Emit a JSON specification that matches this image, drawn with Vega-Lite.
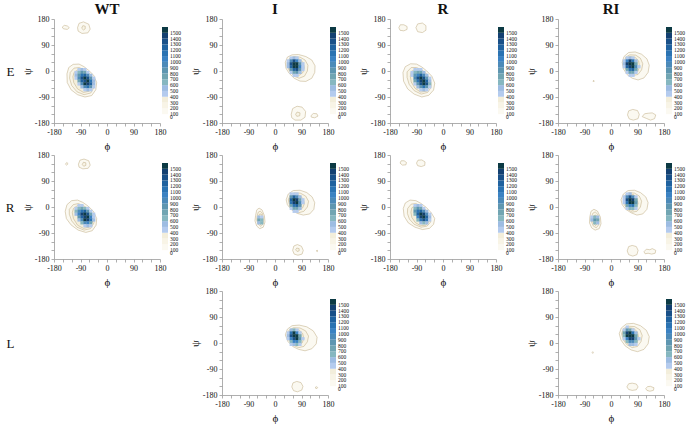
{
"$schema":"https://vega.github.io/schema/vega-lite/v6.json",
"background":"white",
"padding":{"left":5,"top":2,"right":5,"bottom":5},
"config":{
 "font":"Liberation Serif",
 "view":{"stroke":null},
 "axis":{"domainColor":"#9a9a9a","tickColor":"#9a9a9a","domainWidth":0.8,"tickWidth":0.8,"tickSize":3,"labelFont":"Liberation Serif","labelFontSize":8,"labelColor":"#111","labelPadding":2,"labelFlush":false,"labelOverlap":false,"titleFont":"Liberation Serif","titleFontSize":11,"titleFontWeight":"normal","titleColor":"#111","titlePadding":4,"grid":false},
 "axisY":{"titlePadding":2},
 "legend":{"labelFont":"Liberation Serif","labelFontSize":5.5,"labelOffset":2,"labelOverlap":false,"gradientStrokeWidth":0,"direction":"vertical","labelColor":"#111"},
 "title":{"font":"Liberation Serif","fontSize":15,"fontWeight":"bold","offset":-2,"anchor":"middle","color":"#111"}
},
"datasets":{
"lines":[
{"p":"EWT","k":"1a","i":0,"phi":-136,"psi":-10,"n":100},{"p":"EWT","k":"1a","i":1,"phi":-130,"psi":12,"n":100},{"p":"EWT","k":"1a","i":2,"phi":-115,"psi":23,"n":100},{"p":"EWT","k":"1a","i":3,"phi":-95,"psi":24,"n":100},{"p":"EWT","k":"1a","i":4,"phi":-78,"psi":15,"n":100},{"p":"EWT","k":"1a","i":5,"phi":-62,"psi":2,"n":100},{"p":"EWT","k":"1a","i":6,"phi":-45,"psi":-15,"n":100},{"p":"EWT","k":"1a","i":7,"phi":-35,"psi":-40,"n":100},{"p":"EWT","k":"1a","i":8,"phi":-38,"psi":-65,"n":100},{"p":"EWT","k":"1a","i":9,"phi":-52,"psi":-85,"n":100},{"p":"EWT","k":"1a","i":10,"phi":-75,"psi":-90,"n":100},{"p":"EWT","k":"1a","i":11,"phi":-100,"psi":-82,"n":100},{"p":"EWT","k":"1a","i":12,"phi":-122,"psi":-65,"n":100},{"p":"EWT","k":"1a","i":13,"phi":-135,"psi":-40,"n":100},{"p":"EWT","k":"1a","i":14,"phi":-136,"psi":-10,"n":100},
{"p":"EWT","k":"2a","i":0,"phi":-125,"psi":-5,"n":200},{"p":"EWT","k":"2a","i":1,"phi":-112,"psi":10,"n":200},{"p":"EWT","k":"2a","i":2,"phi":-95,"psi":12,"n":200},{"p":"EWT","k":"2a","i":3,"phi":-78,"psi":5,"n":200},{"p":"EWT","k":"2a","i":4,"phi":-60,"psi":-8,"n":200},{"p":"EWT","k":"2a","i":5,"phi":-46,"psi":-30,"n":200},{"p":"EWT","k":"2a","i":6,"phi":-43,"psi":-55,"n":200},{"p":"EWT","k":"2a","i":7,"phi":-55,"psi":-76,"n":200},{"p":"EWT","k":"2a","i":8,"phi":-78,"psi":-82,"n":200},{"p":"EWT","k":"2a","i":9,"phi":-102,"psi":-72,"n":200},{"p":"EWT","k":"2a","i":10,"phi":-120,"psi":-50,"n":200},{"p":"EWT","k":"2a","i":11,"phi":-127,"psi":-25,"n":200},{"p":"EWT","k":"2a","i":12,"phi":-125,"psi":-5,"n":200},
{"p":"EWT","k":"3a","i":0,"phi":-112,"psi":-5,"n":300},{"p":"EWT","k":"3a","i":1,"phi":-98,"psi":5,"n":300},{"p":"EWT","k":"3a","i":2,"phi":-80,"psi":0,"n":300},{"p":"EWT","k":"3a","i":3,"phi":-62,"psi":-10,"n":300},{"p":"EWT","k":"3a","i":4,"phi":-50,"psi":-30,"n":300},{"p":"EWT","k":"3a","i":5,"phi":-48,"psi":-52,"n":300},{"p":"EWT","k":"3a","i":6,"phi":-60,"psi":-70,"n":300},{"p":"EWT","k":"3a","i":7,"phi":-80,"psi":-74,"n":300},{"p":"EWT","k":"3a","i":8,"phi":-100,"psi":-62,"n":300},{"p":"EWT","k":"3a","i":9,"phi":-113,"psi":-40,"n":300},{"p":"EWT","k":"3a","i":10,"phi":-116,"psi":-20,"n":300},{"p":"EWT","k":"3a","i":11,"phi":-112,"psi":-5,"n":300},
{"p":"EWT","k":"1b","i":0,"phi":-100,"psi":150,"n":100},{"p":"EWT","k":"1b","i":1,"phi":-95,"psi":165,"n":100},{"p":"EWT","k":"1b","i":2,"phi":-80,"psi":170,"n":100},{"p":"EWT","k":"1b","i":3,"phi":-62,"psi":162,"n":100},{"p":"EWT","k":"1b","i":4,"phi":-57,"psi":145,"n":100},{"p":"EWT","k":"1b","i":5,"phi":-65,"psi":132,"n":100},{"p":"EWT","k":"1b","i":6,"phi":-85,"psi":130,"n":100},{"p":"EWT","k":"1b","i":7,"phi":-98,"psi":138,"n":100},{"p":"EWT","k":"1b","i":8,"phi":-100,"psi":150,"n":100},
{"p":"EWT","k":"2b","i":0,"phi":-86,"psi":148,"n":200},{"p":"EWT","k":"2b","i":1,"phi":-82,"psi":157,"n":200},{"p":"EWT","k":"2b","i":2,"phi":-74,"psi":155,"n":200},{"p":"EWT","k":"2b","i":3,"phi":-74,"psi":146,"n":200},{"p":"EWT","k":"2b","i":4,"phi":-80,"psi":142,"n":200},{"p":"EWT","k":"2b","i":5,"phi":-86,"psi":148,"n":200},
{"p":"EWT","k":"1c","i":0,"phi":-152,"psi":152,"n":100},{"p":"EWT","k":"1c","i":1,"phi":-145,"psi":158,"n":100},{"p":"EWT","k":"1c","i":2,"phi":-135,"psi":156,"n":100},{"p":"EWT","k":"1c","i":3,"phi":-128,"psi":150,"n":100},{"p":"EWT","k":"1c","i":4,"phi":-135,"psi":144,"n":100},{"p":"EWT","k":"1c","i":5,"phi":-148,"psi":146,"n":100},{"p":"EWT","k":"1c","i":6,"phi":-152,"psi":152,"n":100},

{"p":"RWT","k":"1a","i":0,"phi":-142,"psi":-15,"n":100},{"p":"RWT","k":"1a","i":1,"phi":-136,"psi":8,"n":100},{"p":"RWT","k":"1a","i":2,"phi":-120,"psi":22,"n":100},{"p":"RWT","k":"1a","i":3,"phi":-100,"psi":24,"n":100},{"p":"RWT","k":"1a","i":4,"phi":-82,"psi":16,"n":100},{"p":"RWT","k":"1a","i":5,"phi":-64,"psi":3,"n":100},{"p":"RWT","k":"1a","i":6,"phi":-46,"psi":-15,"n":100},{"p":"RWT","k":"1a","i":7,"phi":-35,"psi":-40,"n":100},{"p":"RWT","k":"1a","i":8,"phi":-37,"psi":-63,"n":100},{"p":"RWT","k":"1a","i":9,"phi":-50,"psi":-82,"n":100},{"p":"RWT","k":"1a","i":10,"phi":-72,"psi":-88,"n":100},{"p":"RWT","k":"1a","i":11,"phi":-98,"psi":-80,"n":100},{"p":"RWT","k":"1a","i":12,"phi":-122,"psi":-62,"n":100},{"p":"RWT","k":"1a","i":13,"phi":-138,"psi":-40,"n":100},{"p":"RWT","k":"1a","i":14,"phi":-142,"psi":-15,"n":100},
{"p":"RWT","k":"2a","i":0,"phi":-128,"psi":-8,"n":200},{"p":"RWT","k":"2a","i":1,"phi":-115,"psi":8,"n":200},{"p":"RWT","k":"2a","i":2,"phi":-98,"psi":12,"n":200},{"p":"RWT","k":"2a","i":3,"phi":-80,"psi":5,"n":200},{"p":"RWT","k":"2a","i":4,"phi":-62,"psi":-8,"n":200},{"p":"RWT","k":"2a","i":5,"phi":-47,"psi":-30,"n":200},{"p":"RWT","k":"2a","i":6,"phi":-44,"psi":-55,"n":200},{"p":"RWT","k":"2a","i":7,"phi":-56,"psi":-75,"n":200},{"p":"RWT","k":"2a","i":8,"phi":-78,"psi":-80,"n":200},{"p":"RWT","k":"2a","i":9,"phi":-102,"psi":-70,"n":200},{"p":"RWT","k":"2a","i":10,"phi":-120,"psi":-48,"n":200},{"p":"RWT","k":"2a","i":11,"phi":-128,"psi":-25,"n":200},{"p":"RWT","k":"2a","i":12,"phi":-128,"psi":-8,"n":200},
{"p":"RWT","k":"3a","i":0,"phi":-114,"psi":-5,"n":300},{"p":"RWT","k":"3a","i":1,"phi":-100,"psi":5,"n":300},{"p":"RWT","k":"3a","i":2,"phi":-82,"psi":0,"n":300},{"p":"RWT","k":"3a","i":3,"phi":-64,"psi":-10,"n":300},{"p":"RWT","k":"3a","i":4,"phi":-51,"psi":-30,"n":300},{"p":"RWT","k":"3a","i":5,"phi":-49,"psi":-52,"n":300},{"p":"RWT","k":"3a","i":6,"phi":-60,"psi":-70,"n":300},{"p":"RWT","k":"3a","i":7,"phi":-80,"psi":-74,"n":300},{"p":"RWT","k":"3a","i":8,"phi":-100,"psi":-63,"n":300},{"p":"RWT","k":"3a","i":9,"phi":-114,"psi":-40,"n":300},{"p":"RWT","k":"3a","i":10,"phi":-118,"psi":-20,"n":300},{"p":"RWT","k":"3a","i":11,"phi":-114,"psi":-5,"n":300},
{"p":"RWT","k":"1b","i":0,"phi":-97,"psi":148,"n":100},{"p":"RWT","k":"1b","i":1,"phi":-92,"psi":162,"n":100},{"p":"RWT","k":"1b","i":2,"phi":-78,"psi":166,"n":100},{"p":"RWT","k":"1b","i":3,"phi":-62,"psi":160,"n":100},{"p":"RWT","k":"1b","i":4,"phi":-57,"psi":145,"n":100},{"p":"RWT","k":"1b","i":5,"phi":-64,"psi":134,"n":100},{"p":"RWT","k":"1b","i":6,"phi":-82,"psi":132,"n":100},{"p":"RWT","k":"1b","i":7,"phi":-95,"psi":138,"n":100},{"p":"RWT","k":"1b","i":8,"phi":-97,"psi":148,"n":100},
{"p":"RWT","k":"2b","i":0,"phi":-84,"psi":147,"n":200},{"p":"RWT","k":"2b","i":1,"phi":-80,"psi":155,"n":200},{"p":"RWT","k":"2b","i":2,"phi":-72,"psi":153,"n":200},{"p":"RWT","k":"2b","i":3,"phi":-72,"psi":144,"n":200},{"p":"RWT","k":"2b","i":4,"phi":-79,"psi":141,"n":200},{"p":"RWT","k":"2b","i":5,"phi":-84,"psi":147,"n":200},
{"p":"RWT","k":"1c","i":0,"phi":-141,"psi":148,"n":100},{"p":"RWT","k":"1c","i":1,"phi":-137,"psi":154,"n":100},{"p":"RWT","k":"1c","i":2,"phi":-132,"psi":150,"n":100},{"p":"RWT","k":"1c","i":3,"phi":-137,"psi":145,"n":100},{"p":"RWT","k":"1c","i":4,"phi":-141,"psi":148,"n":100},

{"p":"ER","k":"1a","i":0,"phi":-136,"psi":-5,"n":100},{"p":"ER","k":"1a","i":1,"phi":-128,"psi":15,"n":100},{"p":"ER","k":"1a","i":2,"phi":-110,"psi":25,"n":100},{"p":"ER","k":"1a","i":3,"phi":-90,"psi":24,"n":100},{"p":"ER","k":"1a","i":4,"phi":-72,"psi":14,"n":100},{"p":"ER","k":"1a","i":5,"phi":-55,"psi":0,"n":100},{"p":"ER","k":"1a","i":6,"phi":-38,"psi":-18,"n":100},{"p":"ER","k":"1a","i":7,"phi":-28,"psi":-42,"n":100},{"p":"ER","k":"1a","i":8,"phi":-32,"psi":-66,"n":100},{"p":"ER","k":"1a","i":9,"phi":-48,"psi":-84,"n":100},{"p":"ER","k":"1a","i":10,"phi":-72,"psi":-90,"n":100},{"p":"ER","k":"1a","i":11,"phi":-98,"psi":-80,"n":100},{"p":"ER","k":"1a","i":12,"phi":-120,"psi":-62,"n":100},{"p":"ER","k":"1a","i":13,"phi":-134,"psi":-35,"n":100},{"p":"ER","k":"1a","i":14,"phi":-136,"psi":-5,"n":100},
{"p":"ER","k":"2a","i":0,"phi":-122,"psi":-3,"n":200},{"p":"ER","k":"2a","i":1,"phi":-108,"psi":12,"n":200},{"p":"ER","k":"2a","i":2,"phi":-90,"psi":12,"n":200},{"p":"ER","k":"2a","i":3,"phi":-72,"psi":4,"n":200},{"p":"ER","k":"2a","i":4,"phi":-55,"psi":-10,"n":200},{"p":"ER","k":"2a","i":5,"phi":-42,"psi":-32,"n":200},{"p":"ER","k":"2a","i":6,"phi":-40,"psi":-56,"n":200},{"p":"ER","k":"2a","i":7,"phi":-52,"psi":-74,"n":200},{"p":"ER","k":"2a","i":8,"phi":-74,"psi":-80,"n":200},{"p":"ER","k":"2a","i":9,"phi":-98,"psi":-68,"n":200},{"p":"ER","k":"2a","i":10,"phi":-115,"psi":-46,"n":200},{"p":"ER","k":"2a","i":11,"phi":-122,"psi":-22,"n":200},{"p":"ER","k":"2a","i":12,"phi":-122,"psi":-3,"n":200},
{"p":"ER","k":"3a","i":0,"phi":-108,"psi":-2,"n":300},{"p":"ER","k":"3a","i":1,"phi":-94,"psi":6,"n":300},{"p":"ER","k":"3a","i":2,"phi":-76,"psi":0,"n":300},{"p":"ER","k":"3a","i":3,"phi":-58,"psi":-12,"n":300},{"p":"ER","k":"3a","i":4,"phi":-46,"psi":-32,"n":300},{"p":"ER","k":"3a","i":5,"phi":-45,"psi":-54,"n":300},{"p":"ER","k":"3a","i":6,"phi":-56,"psi":-70,"n":300},{"p":"ER","k":"3a","i":7,"phi":-76,"psi":-73,"n":300},{"p":"ER","k":"3a","i":8,"phi":-95,"psi":-60,"n":300},{"p":"ER","k":"3a","i":9,"phi":-108,"psi":-38,"n":300},{"p":"ER","k":"3a","i":10,"phi":-111,"psi":-18,"n":300},{"p":"ER","k":"3a","i":11,"phi":-108,"psi":-2,"n":300},
{"p":"ER","k":"1b","i":0,"phi":-150,"psi":150,"n":100},{"p":"ER","k":"1b","i":1,"phi":-145,"psi":160,"n":100},{"p":"ER","k":"1b","i":2,"phi":-133,"psi":160,"n":100},{"p":"ER","k":"1b","i":3,"phi":-122,"psi":154,"n":100},{"p":"ER","k":"1b","i":4,"phi":-122,"psi":144,"n":100},{"p":"ER","k":"1b","i":5,"phi":-133,"psi":139,"n":100},{"p":"ER","k":"1b","i":6,"phi":-146,"psi":141,"n":100},{"p":"ER","k":"1b","i":7,"phi":-150,"psi":150,"n":100},
{"p":"ER","k":"1c","i":0,"phi":-92,"psi":150,"n":100},{"p":"ER","k":"1c","i":1,"phi":-86,"psi":163,"n":100},{"p":"ER","k":"1c","i":2,"phi":-70,"psi":166,"n":100},{"p":"ER","k":"1c","i":3,"phi":-58,"psi":157,"n":100},{"p":"ER","k":"1c","i":4,"phi":-58,"psi":141,"n":100},{"p":"ER","k":"1c","i":5,"phi":-70,"psi":133,"n":100},{"p":"ER","k":"1c","i":6,"phi":-86,"psi":136,"n":100},{"p":"ER","k":"1c","i":7,"phi":-92,"psi":150,"n":100},

{"p":"RR","k":"1a","i":0,"phi":-135,"psi":-5,"n":100},{"p":"RR","k":"1a","i":1,"phi":-128,"psi":14,"n":100},{"p":"RR","k":"1a","i":2,"phi":-112,"psi":24,"n":100},{"p":"RR","k":"1a","i":3,"phi":-92,"psi":22,"n":100},{"p":"RR","k":"1a","i":4,"phi":-74,"psi":12,"n":100},{"p":"RR","k":"1a","i":5,"phi":-56,"psi":-2,"n":100},{"p":"RR","k":"1a","i":6,"phi":-40,"psi":-20,"n":100},{"p":"RR","k":"1a","i":7,"phi":-28,"psi":-40,"n":100},{"p":"RR","k":"1a","i":8,"phi":-32,"psi":-60,"n":100},{"p":"RR","k":"1a","i":9,"phi":-46,"psi":-74,"n":100},{"p":"RR","k":"1a","i":10,"phi":-70,"psi":-78,"n":100},{"p":"RR","k":"1a","i":11,"phi":-95,"psi":-70,"n":100},{"p":"RR","k":"1a","i":12,"phi":-118,"psi":-55,"n":100},{"p":"RR","k":"1a","i":13,"phi":-132,"psi":-32,"n":100},{"p":"RR","k":"1a","i":14,"phi":-135,"psi":-5,"n":100},
{"p":"RR","k":"2a","i":0,"phi":-120,"psi":-5,"n":200},{"p":"RR","k":"2a","i":1,"phi":-108,"psi":10,"n":200},{"p":"RR","k":"2a","i":2,"phi":-92,"psi":12,"n":200},{"p":"RR","k":"2a","i":3,"phi":-74,"psi":3,"n":200},{"p":"RR","k":"2a","i":4,"phi":-56,"psi":-12,"n":200},{"p":"RR","k":"2a","i":5,"phi":-43,"psi":-32,"n":200},{"p":"RR","k":"2a","i":6,"phi":-42,"psi":-52,"n":200},{"p":"RR","k":"2a","i":7,"phi":-54,"psi":-66,"n":200},{"p":"RR","k":"2a","i":8,"phi":-74,"psi":-70,"n":200},{"p":"RR","k":"2a","i":9,"phi":-98,"psi":-60,"n":200},{"p":"RR","k":"2a","i":10,"phi":-114,"psi":-42,"n":200},{"p":"RR","k":"2a","i":11,"phi":-121,"psi":-22,"n":200},{"p":"RR","k":"2a","i":12,"phi":-120,"psi":-5,"n":200},
{"p":"RR","k":"3a","i":0,"phi":-106,"psi":-3,"n":300},{"p":"RR","k":"3a","i":1,"phi":-94,"psi":5,"n":300},{"p":"RR","k":"3a","i":2,"phi":-78,"psi":0,"n":300},{"p":"RR","k":"3a","i":3,"phi":-60,"psi":-12,"n":300},{"p":"RR","k":"3a","i":4,"phi":-48,"psi":-32,"n":300},{"p":"RR","k":"3a","i":5,"phi":-47,"psi":-50,"n":300},{"p":"RR","k":"3a","i":6,"phi":-58,"psi":-63,"n":300},{"p":"RR","k":"3a","i":7,"phi":-76,"psi":-65,"n":300},{"p":"RR","k":"3a","i":8,"phi":-94,"psi":-54,"n":300},{"p":"RR","k":"3a","i":9,"phi":-106,"psi":-36,"n":300},{"p":"RR","k":"3a","i":10,"phi":-109,"psi":-18,"n":300},{"p":"RR","k":"3a","i":11,"phi":-106,"psi":-3,"n":300},
{"p":"RR","k":"1b","i":0,"phi":-146,"psi":152,"n":100},{"p":"RR","k":"1b","i":1,"phi":-142,"psi":160,"n":100},{"p":"RR","k":"1b","i":2,"phi":-132,"psi":160,"n":100},{"p":"RR","k":"1b","i":3,"phi":-124,"psi":154,"n":100},{"p":"RR","k":"1b","i":4,"phi":-126,"psi":146,"n":100},{"p":"RR","k":"1b","i":5,"phi":-138,"psi":145,"n":100},{"p":"RR","k":"1b","i":6,"phi":-146,"psi":152,"n":100},
{"p":"RR","k":"1c","i":0,"phi":-90,"psi":152,"n":100},{"p":"RR","k":"1c","i":1,"phi":-85,"psi":162,"n":100},{"p":"RR","k":"1c","i":2,"phi":-72,"psi":163,"n":100},{"p":"RR","k":"1c","i":3,"phi":-61,"psi":156,"n":100},{"p":"RR","k":"1c","i":4,"phi":-62,"psi":144,"n":100},{"p":"RR","k":"1c","i":5,"phi":-74,"psi":140,"n":100},{"p":"RR","k":"1c","i":6,"phi":-86,"psi":143,"n":100},{"p":"RR","k":"1c","i":7,"phi":-90,"psi":152,"n":100},

{"p":"EI","k":"1a","i":0,"phi":35,"psi":30,"n":100},{"p":"EI","k":"1a","i":1,"phi":42,"psi":48,"n":100},{"p":"EI","k":"1a","i":2,"phi":58,"psi":56,"n":100},{"p":"EI","k":"1a","i":3,"phi":80,"psi":57,"n":100},{"p":"EI","k":"1a","i":4,"phi":105,"psi":50,"n":100},{"p":"EI","k":"1a","i":5,"phi":125,"psi":38,"n":100},{"p":"EI","k":"1a","i":6,"phi":136,"psi":18,"n":100},{"p":"EI","k":"1a","i":7,"phi":135,"psi":-5,"n":100},{"p":"EI","k":"1a","i":8,"phi":125,"psi":-25,"n":100},{"p":"EI","k":"1a","i":9,"phi":105,"psi":-36,"n":100},{"p":"EI","k":"1a","i":10,"phi":85,"psi":-35,"n":100},{"p":"EI","k":"1a","i":11,"phi":65,"psi":-25,"n":100},{"p":"EI","k":"1a","i":12,"phi":48,"psi":-8,"n":100},{"p":"EI","k":"1a","i":13,"phi":37,"psi":10,"n":100},{"p":"EI","k":"1a","i":14,"phi":35,"psi":30,"n":100},
{"p":"EI","k":"2a","i":0,"phi":42,"psi":30,"n":200},{"p":"EI","k":"2a","i":1,"phi":50,"psi":45,"n":200},{"p":"EI","k":"2a","i":2,"phi":65,"psi":50,"n":200},{"p":"EI","k":"2a","i":3,"phi":85,"psi":48,"n":200},{"p":"EI","k":"2a","i":4,"phi":102,"psi":38,"n":200},{"p":"EI","k":"2a","i":5,"phi":112,"psi":20,"n":200},{"p":"EI","k":"2a","i":6,"phi":110,"psi":0,"n":200},{"p":"EI","k":"2a","i":7,"phi":100,"psi":-18,"n":200},{"p":"EI","k":"2a","i":8,"phi":82,"psi":-25,"n":200},{"p":"EI","k":"2a","i":9,"phi":65,"psi":-18,"n":200},{"p":"EI","k":"2a","i":10,"phi":50,"psi":-2,"n":200},{"p":"EI","k":"2a","i":11,"phi":42,"psi":15,"n":200},{"p":"EI","k":"2a","i":12,"phi":42,"psi":30,"n":200},
{"p":"EI","k":"3a","i":0,"phi":45,"psi":30,"n":300},{"p":"EI","k":"3a","i":1,"phi":52,"psi":42,"n":300},{"p":"EI","k":"3a","i":2,"phi":65,"psi":46,"n":300},{"p":"EI","k":"3a","i":3,"phi":82,"psi":42,"n":300},{"p":"EI","k":"3a","i":4,"phi":95,"psi":30,"n":300},{"p":"EI","k":"3a","i":5,"phi":100,"psi":12,"n":300},{"p":"EI","k":"3a","i":6,"phi":95,"psi":-5,"n":300},{"p":"EI","k":"3a","i":7,"phi":82,"psi":-15,"n":300},{"p":"EI","k":"3a","i":8,"phi":65,"psi":-12,"n":300},{"p":"EI","k":"3a","i":9,"phi":52,"psi":0,"n":300},{"p":"EI","k":"3a","i":10,"phi":45,"psi":15,"n":300},{"p":"EI","k":"3a","i":11,"phi":45,"psi":30,"n":300},
{"p":"EI","k":"1b","i":0,"phi":55,"psi":-150,"n":100},{"p":"EI","k":"1b","i":1,"phi":60,"psi":-130,"n":100},{"p":"EI","k":"1b","i":2,"phi":75,"psi":-122,"n":100},{"p":"EI","k":"1b","i":3,"phi":92,"psi":-125,"n":100},{"p":"EI","k":"1b","i":4,"phi":104,"psi":-140,"n":100},{"p":"EI","k":"1b","i":5,"phi":102,"psi":-160,"n":100},{"p":"EI","k":"1b","i":6,"phi":88,"psi":-170,"n":100},{"p":"EI","k":"1b","i":7,"phi":68,"psi":-170,"n":100},{"p":"EI","k":"1b","i":8,"phi":57,"psi":-162,"n":100},{"p":"EI","k":"1b","i":9,"phi":55,"psi":-150,"n":100},
{"p":"EI","k":"2b","i":0,"phi":70,"psi":-150,"n":200},{"p":"EI","k":"2b","i":1,"phi":75,"psi":-142,"n":200},{"p":"EI","k":"2b","i":2,"phi":85,"psi":-145,"n":200},{"p":"EI","k":"2b","i":3,"phi":84,"psi":-155,"n":200},{"p":"EI","k":"2b","i":4,"phi":74,"psi":-157,"n":200},{"p":"EI","k":"2b","i":5,"phi":70,"psi":-150,"n":200},
{"p":"EI","k":"1c","i":0,"phi":122,"psi":-155,"n":100},{"p":"EI","k":"1c","i":1,"phi":130,"psi":-147,"n":100},{"p":"EI","k":"1c","i":2,"phi":142,"psi":-148,"n":100},{"p":"EI","k":"1c","i":3,"phi":146,"psi":-156,"n":100},{"p":"EI","k":"1c","i":4,"phi":135,"psi":-162,"n":100},{"p":"EI","k":"1c","i":5,"phi":124,"psi":-160,"n":100},{"p":"EI","k":"1c","i":6,"phi":122,"psi":-155,"n":100},

{"p":"RI","k":"1a","i":0,"phi":38,"psi":25,"n":100},{"p":"RI","k":"1a","i":1,"phi":45,"psi":45,"n":100},{"p":"RI","k":"1a","i":2,"phi":62,"psi":57,"n":100},{"p":"RI","k":"1a","i":3,"phi":85,"psi":58,"n":100},{"p":"RI","k":"1a","i":4,"phi":108,"psi":50,"n":100},{"p":"RI","k":"1a","i":5,"phi":126,"psi":35,"n":100},{"p":"RI","k":"1a","i":6,"phi":135,"psi":15,"n":100},{"p":"RI","k":"1a","i":7,"phi":132,"psi":-8,"n":100},{"p":"RI","k":"1a","i":8,"phi":118,"psi":-24,"n":100},{"p":"RI","k":"1a","i":9,"phi":96,"psi":-28,"n":100},{"p":"RI","k":"1a","i":10,"phi":75,"psi":-22,"n":100},{"p":"RI","k":"1a","i":11,"phi":56,"psi":-10,"n":100},{"p":"RI","k":"1a","i":12,"phi":42,"psi":8,"n":100},{"p":"RI","k":"1a","i":13,"phi":38,"psi":25,"n":100},
{"p":"RI","k":"2a","i":0,"phi":45,"psi":25,"n":200},{"p":"RI","k":"2a","i":1,"phi":52,"psi":42,"n":200},{"p":"RI","k":"2a","i":2,"phi":66,"psi":49,"n":200},{"p":"RI","k":"2a","i":3,"phi":86,"psi":48,"n":200},{"p":"RI","k":"2a","i":4,"phi":104,"psi":38,"n":200},{"p":"RI","k":"2a","i":5,"phi":114,"psi":20,"n":200},{"p":"RI","k":"2a","i":6,"phi":110,"psi":0,"n":200},{"p":"RI","k":"2a","i":7,"phi":98,"psi":-15,"n":200},{"p":"RI","k":"2a","i":8,"phi":80,"psi":-20,"n":200},{"p":"RI","k":"2a","i":9,"phi":62,"psi":-12,"n":200},{"p":"RI","k":"2a","i":10,"phi":50,"psi":3,"n":200},{"p":"RI","k":"2a","i":11,"phi":45,"psi":25,"n":200},
{"p":"RI","k":"3a","i":0,"phi":48,"psi":25,"n":300},{"p":"RI","k":"3a","i":1,"phi":55,"psi":39,"n":300},{"p":"RI","k":"3a","i":2,"phi":68,"psi":43,"n":300},{"p":"RI","k":"3a","i":3,"phi":84,"psi":40,"n":300},{"p":"RI","k":"3a","i":4,"phi":96,"psi":28,"n":300},{"p":"RI","k":"3a","i":5,"phi":100,"psi":12,"n":300},{"p":"RI","k":"3a","i":6,"phi":94,"psi":-3,"n":300},{"p":"RI","k":"3a","i":7,"phi":82,"psi":-12,"n":300},{"p":"RI","k":"3a","i":8,"phi":66,"psi":-8,"n":300},{"p":"RI","k":"3a","i":9,"phi":54,"psi":4,"n":300},{"p":"RI","k":"3a","i":10,"phi":48,"psi":25,"n":300},
{"p":"RI","k":"1b","i":0,"phi":-66,"psi":-30,"n":100},{"p":"RI","k":"1b","i":1,"phi":-62,"psi":-10,"n":100},{"p":"RI","k":"1b","i":2,"phi":-54,"psi":-4,"n":100},{"p":"RI","k":"1b","i":3,"phi":-44,"psi":-10,"n":100},{"p":"RI","k":"1b","i":4,"phi":-36,"psi":-30,"n":100},{"p":"RI","k":"1b","i":5,"phi":-34,"psi":-52,"n":100},{"p":"RI","k":"1b","i":6,"phi":-40,"psi":-70,"n":100},{"p":"RI","k":"1b","i":7,"phi":-52,"psi":-75,"n":100},{"p":"RI","k":"1b","i":8,"phi":-62,"psi":-66,"n":100},{"p":"RI","k":"1b","i":9,"phi":-68,"psi":-48,"n":100},{"p":"RI","k":"1b","i":10,"phi":-66,"psi":-30,"n":100},
{"p":"RI","k":"2b","i":0,"phi":-61,"psi":-32,"n":200},{"p":"RI","k":"2b","i":1,"phi":-57,"psi":-18,"n":200},{"p":"RI","k":"2b","i":2,"phi":-50,"psi":-14,"n":200},{"p":"RI","k":"2b","i":3,"phi":-43,"psi":-22,"n":200},{"p":"RI","k":"2b","i":4,"phi":-39,"psi":-40,"n":200},{"p":"RI","k":"2b","i":5,"phi":-40,"psi":-58,"n":200},{"p":"RI","k":"2b","i":6,"phi":-48,"psi":-67,"n":200},{"p":"RI","k":"2b","i":7,"phi":-57,"psi":-60,"n":200},{"p":"RI","k":"2b","i":8,"phi":-62,"psi":-46,"n":200},{"p":"RI","k":"2b","i":9,"phi":-61,"psi":-32,"n":200},
{"p":"RI","k":"3b","i":0,"phi":-57,"psi":-35,"n":300},{"p":"RI","k":"3b","i":1,"phi":-53,"psi":-25,"n":300},{"p":"RI","k":"3b","i":2,"phi":-47,"psi":-24,"n":300},{"p":"RI","k":"3b","i":3,"phi":-43,"psi":-35,"n":300},{"p":"RI","k":"3b","i":4,"phi":-43,"psi":-52,"n":300},{"p":"RI","k":"3b","i":5,"phi":-49,"psi":-61,"n":300},{"p":"RI","k":"3b","i":6,"phi":-56,"psi":-54,"n":300},{"p":"RI","k":"3b","i":7,"phi":-58,"psi":-44,"n":300},{"p":"RI","k":"3b","i":8,"phi":-57,"psi":-35,"n":300},
{"p":"RI","k":"1c","i":0,"phi":60,"psi":-150,"n":100},{"p":"RI","k":"1c","i":1,"phi":64,"psi":-135,"n":100},{"p":"RI","k":"1c","i":2,"phi":76,"psi":-130,"n":100},{"p":"RI","k":"1c","i":3,"phi":90,"psi":-136,"n":100},{"p":"RI","k":"1c","i":4,"phi":96,"psi":-150,"n":100},{"p":"RI","k":"1c","i":5,"phi":92,"psi":-163,"n":100},{"p":"RI","k":"1c","i":6,"phi":78,"psi":-167,"n":100},{"p":"RI","k":"1c","i":7,"phi":65,"psi":-163,"n":100},{"p":"RI","k":"1c","i":8,"phi":60,"psi":-150,"n":100},
{"p":"RI","k":"2c","i":0,"phi":70,"psi":-148,"n":200},{"p":"RI","k":"2c","i":1,"phi":74,"psi":-142,"n":200},{"p":"RI","k":"2c","i":2,"phi":82,"psi":-144,"n":200},{"p":"RI","k":"2c","i":3,"phi":82,"psi":-152,"n":200},{"p":"RI","k":"2c","i":4,"phi":75,"psi":-154,"n":200},{"p":"RI","k":"2c","i":5,"phi":70,"psi":-148,"n":200},
{"p":"RI","k":"1d","i":0,"phi":140,"psi":-152,"n":100},{"p":"RI","k":"1d","i":1,"phi":143,"psi":-149,"n":100},{"p":"RI","k":"1d","i":2,"phi":146,"psi":-152,"n":100},{"p":"RI","k":"1d","i":3,"phi":143,"psi":-155,"n":100},{"p":"RI","k":"1d","i":4,"phi":140,"psi":-152,"n":100},

{"p":"ERI","k":"1a","i":0,"phi":38,"psi":30,"n":100},{"p":"ERI","k":"1a","i":1,"phi":44,"psi":50,"n":100},{"p":"ERI","k":"1a","i":2,"phi":60,"psi":64,"n":100},{"p":"ERI","k":"1a","i":3,"phi":82,"psi":66,"n":100},{"p":"ERI","k":"1a","i":4,"phi":104,"psi":58,"n":100},{"p":"ERI","k":"1a","i":5,"phi":122,"psi":42,"n":100},{"p":"ERI","k":"1a","i":6,"phi":130,"psi":20,"n":100},{"p":"ERI","k":"1a","i":7,"phi":126,"psi":-5,"n":100},{"p":"ERI","k":"1a","i":8,"phi":112,"psi":-24,"n":100},{"p":"ERI","k":"1a","i":9,"phi":92,"psi":-31,"n":100},{"p":"ERI","k":"1a","i":10,"phi":72,"psi":-25,"n":100},{"p":"ERI","k":"1a","i":11,"phi":54,"psi":-12,"n":100},{"p":"ERI","k":"1a","i":12,"phi":42,"psi":8,"n":100},{"p":"ERI","k":"1a","i":13,"phi":38,"psi":30,"n":100},
{"p":"ERI","k":"2a","i":0,"phi":44,"psi":30,"n":200},{"p":"ERI","k":"2a","i":1,"phi":50,"psi":48,"n":200},{"p":"ERI","k":"2a","i":2,"phi":64,"psi":56,"n":200},{"p":"ERI","k":"2a","i":3,"phi":84,"psi":55,"n":200},{"p":"ERI","k":"2a","i":4,"phi":100,"psi":44,"n":200},{"p":"ERI","k":"2a","i":5,"phi":108,"psi":25,"n":200},{"p":"ERI","k":"2a","i":6,"phi":104,"psi":4,"n":200},{"p":"ERI","k":"2a","i":7,"phi":92,"psi":-12,"n":200},{"p":"ERI","k":"2a","i":8,"phi":74,"psi":-16,"n":200},{"p":"ERI","k":"2a","i":9,"phi":58,"psi":-6,"n":200},{"p":"ERI","k":"2a","i":10,"phi":47,"psi":10,"n":200},{"p":"ERI","k":"2a","i":11,"phi":44,"psi":30,"n":200},
{"p":"ERI","k":"3a","i":0,"phi":46,"psi":30,"n":300},{"p":"ERI","k":"3a","i":1,"phi":52,"psi":45,"n":300},{"p":"ERI","k":"3a","i":2,"phi":65,"psi":50,"n":300},{"p":"ERI","k":"3a","i":3,"phi":82,"psi":47,"n":300},{"p":"ERI","k":"3a","i":4,"phi":94,"psi":35,"n":300},{"p":"ERI","k":"3a","i":5,"phi":97,"psi":15,"n":300},{"p":"ERI","k":"3a","i":6,"phi":91,"psi":-2,"n":300},{"p":"ERI","k":"3a","i":7,"phi":78,"psi":-12,"n":300},{"p":"ERI","k":"3a","i":8,"phi":62,"psi":-6,"n":300},{"p":"ERI","k":"3a","i":9,"phi":51,"psi":8,"n":300},{"p":"ERI","k":"3a","i":10,"phi":46,"psi":30,"n":300},
{"p":"ERI","k":"1b","i":0,"phi":56,"psi":-152,"n":100},{"p":"ERI","k":"1b","i":1,"phi":60,"psi":-138,"n":100},{"p":"ERI","k":"1b","i":2,"phi":74,"psi":-133,"n":100},{"p":"ERI","k":"1b","i":3,"phi":90,"psi":-137,"n":100},{"p":"ERI","k":"1b","i":4,"phi":96,"psi":-150,"n":100},{"p":"ERI","k":"1b","i":5,"phi":92,"psi":-165,"n":100},{"p":"ERI","k":"1b","i":6,"phi":76,"psi":-170,"n":100},{"p":"ERI","k":"1b","i":7,"phi":62,"psi":-166,"n":100},{"p":"ERI","k":"1b","i":8,"phi":56,"psi":-152,"n":100},
{"p":"ERI","k":"1c","i":0,"phi":106,"psi":-158,"n":100},{"p":"ERI","k":"1c","i":1,"phi":114,"psi":-148,"n":100},{"p":"ERI","k":"1c","i":2,"phi":128,"psi":-146,"n":100},{"p":"ERI","k":"1c","i":3,"phi":140,"psi":-145,"n":100},{"p":"ERI","k":"1c","i":4,"phi":152,"psi":-152,"n":100},{"p":"ERI","k":"1c","i":5,"phi":148,"psi":-165,"n":100},{"p":"ERI","k":"1c","i":6,"phi":134,"psi":-170,"n":100},{"p":"ERI","k":"1c","i":7,"phi":120,"psi":-164,"n":100},{"p":"ERI","k":"1c","i":8,"phi":106,"psi":-158,"n":100},
{"p":"ERI","k":"1d","i":0,"phi":-61,"psi":-35,"n":100},{"p":"ERI","k":"1d","i":1,"phi":-59,"psi":-32,"n":100},{"p":"ERI","k":"1d","i":2,"phi":-57,"psi":-35,"n":100},{"p":"ERI","k":"1d","i":3,"phi":-59,"psi":-38,"n":100},{"p":"ERI","k":"1d","i":4,"phi":-61,"psi":-35,"n":100},

{"p":"RRI","k":"1a","i":0,"phi":34,"psi":25,"n":100},{"p":"RRI","k":"1a","i":1,"phi":42,"psi":45,"n":100},{"p":"RRI","k":"1a","i":2,"phi":58,"psi":57,"n":100},{"p":"RRI","k":"1a","i":3,"phi":80,"psi":58,"n":100},{"p":"RRI","k":"1a","i":4,"phi":100,"psi":50,"n":100},{"p":"RRI","k":"1a","i":5,"phi":118,"psi":35,"n":100},{"p":"RRI","k":"1a","i":6,"phi":126,"psi":15,"n":100},{"p":"RRI","k":"1a","i":7,"phi":122,"psi":-8,"n":100},{"p":"RRI","k":"1a","i":8,"phi":108,"psi":-24,"n":100},{"p":"RRI","k":"1a","i":9,"phi":88,"psi":-28,"n":100},{"p":"RRI","k":"1a","i":10,"phi":68,"psi":-20,"n":100},{"p":"RRI","k":"1a","i":11,"phi":50,"psi":-8,"n":100},{"p":"RRI","k":"1a","i":12,"phi":38,"psi":8,"n":100},{"p":"RRI","k":"1a","i":13,"phi":34,"psi":25,"n":100},
{"p":"RRI","k":"2a","i":0,"phi":42,"psi":25,"n":200},{"p":"RRI","k":"2a","i":1,"phi":48,"psi":42,"n":200},{"p":"RRI","k":"2a","i":2,"phi":62,"psi":50,"n":200},{"p":"RRI","k":"2a","i":3,"phi":80,"psi":48,"n":200},{"p":"RRI","k":"2a","i":4,"phi":96,"psi":38,"n":200},{"p":"RRI","k":"2a","i":5,"phi":104,"psi":20,"n":200},{"p":"RRI","k":"2a","i":6,"phi":100,"psi":0,"n":200},{"p":"RRI","k":"2a","i":7,"phi":88,"psi":-15,"n":200},{"p":"RRI","k":"2a","i":8,"phi":72,"psi":-18,"n":200},{"p":"RRI","k":"2a","i":9,"phi":56,"psi":-8,"n":200},{"p":"RRI","k":"2a","i":10,"phi":45,"psi":8,"n":200},{"p":"RRI","k":"2a","i":11,"phi":42,"psi":25,"n":200},
{"p":"RRI","k":"3a","i":0,"phi":45,"psi":25,"n":300},{"p":"RRI","k":"3a","i":1,"phi":51,"psi":40,"n":300},{"p":"RRI","k":"3a","i":2,"phi":64,"psi":45,"n":300},{"p":"RRI","k":"3a","i":3,"phi":78,"psi":42,"n":300},{"p":"RRI","k":"3a","i":4,"phi":88,"psi":30,"n":300},{"p":"RRI","k":"3a","i":5,"phi":92,"psi":12,"n":300},{"p":"RRI","k":"3a","i":6,"phi":86,"psi":-4,"n":300},{"p":"RRI","k":"3a","i":7,"phi":74,"psi":-12,"n":300},{"p":"RRI","k":"3a","i":8,"phi":60,"psi":-6,"n":300},{"p":"RRI","k":"3a","i":9,"phi":50,"psi":6,"n":300},{"p":"RRI","k":"3a","i":10,"phi":45,"psi":25,"n":300},
{"p":"RRI","k":"1b","i":0,"phi":-72,"psi":-35,"n":100},{"p":"RRI","k":"1b","i":1,"phi":-68,"psi":-15,"n":100},{"p":"RRI","k":"1b","i":2,"phi":-58,"psi":-8,"n":100},{"p":"RRI","k":"1b","i":3,"phi":-46,"psi":-14,"n":100},{"p":"RRI","k":"1b","i":4,"phi":-36,"psi":-35,"n":100},{"p":"RRI","k":"1b","i":5,"phi":-34,"psi":-58,"n":100},{"p":"RRI","k":"1b","i":6,"phi":-40,"psi":-75,"n":100},{"p":"RRI","k":"1b","i":7,"phi":-54,"psi":-80,"n":100},{"p":"RRI","k":"1b","i":8,"phi":-66,"psi":-72,"n":100},{"p":"RRI","k":"1b","i":9,"phi":-73,"psi":-55,"n":100},{"p":"RRI","k":"1b","i":10,"phi":-72,"psi":-35,"n":100},
{"p":"RRI","k":"2b","i":0,"phi":-67,"psi":-37,"n":200},{"p":"RRI","k":"2b","i":1,"phi":-62,"psi":-22,"n":200},{"p":"RRI","k":"2b","i":2,"phi":-54,"psi":-17,"n":200},{"p":"RRI","k":"2b","i":3,"phi":-45,"psi":-25,"n":200},{"p":"RRI","k":"2b","i":4,"phi":-41,"psi":-42,"n":200},{"p":"RRI","k":"2b","i":5,"phi":-42,"psi":-62,"n":200},{"p":"RRI","k":"2b","i":6,"phi":-50,"psi":-72,"n":200},{"p":"RRI","k":"2b","i":7,"phi":-60,"psi":-66,"n":200},{"p":"RRI","k":"2b","i":8,"phi":-66,"psi":-52,"n":200},{"p":"RRI","k":"2b","i":9,"phi":-67,"psi":-37,"n":200},
{"p":"RRI","k":"3b","i":0,"phi":-62,"psi":-40,"n":300},{"p":"RRI","k":"3b","i":1,"phi":-58,"psi":-30,"n":300},{"p":"RRI","k":"3b","i":2,"phi":-51,"psi":-28,"n":300},{"p":"RRI","k":"3b","i":3,"phi":-46,"psi":-38,"n":300},{"p":"RRI","k":"3b","i":4,"phi":-46,"psi":-56,"n":300},{"p":"RRI","k":"3b","i":5,"phi":-52,"psi":-64,"n":300},{"p":"RRI","k":"3b","i":6,"phi":-59,"psi":-58,"n":300},{"p":"RRI","k":"3b","i":7,"phi":-63,"psi":-48,"n":300},{"p":"RRI","k":"3b","i":8,"phi":-62,"psi":-40,"n":300},
{"p":"RRI","k":"1c","i":0,"phi":55,"psi":-152,"n":100},{"p":"RRI","k":"1c","i":1,"phi":60,"psi":-137,"n":100},{"p":"RRI","k":"1c","i":2,"phi":72,"psi":-133,"n":100},{"p":"RRI","k":"1c","i":3,"phi":86,"psi":-137,"n":100},{"p":"RRI","k":"1c","i":4,"phi":92,"psi":-150,"n":100},{"p":"RRI","k":"1c","i":5,"phi":88,"psi":-165,"n":100},{"p":"RRI","k":"1c","i":6,"phi":74,"psi":-170,"n":100},{"p":"RRI","k":"1c","i":7,"phi":60,"psi":-165,"n":100},{"p":"RRI","k":"1c","i":8,"phi":55,"psi":-152,"n":100},
{"p":"RRI","k":"1d","i":0,"phi":112,"psi":-155,"n":100},{"p":"RRI","k":"1d","i":1,"phi":120,"psi":-146,"n":100},{"p":"RRI","k":"1d","i":2,"phi":132,"psi":-148,"n":100},{"p":"RRI","k":"1d","i":3,"phi":140,"psi":-144,"n":100},{"p":"RRI","k":"1d","i":4,"phi":152,"psi":-150,"n":100},{"p":"RRI","k":"1d","i":5,"phi":150,"psi":-160,"n":100},{"p":"RRI","k":"1d","i":6,"phi":138,"psi":-163,"n":100},{"p":"RRI","k":"1d","i":7,"phi":126,"psi":-160,"n":100},{"p":"RRI","k":"1d","i":8,"phi":116,"psi":-162,"n":100},{"p":"RRI","k":"1d","i":9,"phi":112,"psi":-155,"n":100},

{"p":"LI","k":"1a","i":0,"phi":35,"psi":28,"n":100},{"p":"LI","k":"1a","i":1,"phi":42,"psi":48,"n":100},{"p":"LI","k":"1a","i":2,"phi":58,"psi":60,"n":100},{"p":"LI","k":"1a","i":3,"phi":82,"psi":62,"n":100},{"p":"LI","k":"1a","i":4,"phi":108,"psi":56,"n":100},{"p":"LI","k":"1a","i":5,"phi":130,"psi":42,"n":100},{"p":"LI","k":"1a","i":6,"phi":143,"psi":20,"n":100},{"p":"LI","k":"1a","i":7,"phi":140,"psi":-3,"n":100},{"p":"LI","k":"1a","i":8,"phi":125,"psi":-20,"n":100},{"p":"LI","k":"1a","i":9,"phi":102,"psi":-27,"n":100},{"p":"LI","k":"1a","i":10,"phi":80,"psi":-22,"n":100},{"p":"LI","k":"1a","i":11,"phi":60,"psi":-12,"n":100},{"p":"LI","k":"1a","i":12,"phi":44,"psi":5,"n":100},{"p":"LI","k":"1a","i":13,"phi":35,"psi":28,"n":100},
{"p":"LI","k":"2a","i":0,"phi":42,"psi":28,"n":200},{"p":"LI","k":"2a","i":1,"phi":48,"psi":45,"n":200},{"p":"LI","k":"2a","i":2,"phi":63,"psi":53,"n":200},{"p":"LI","k":"2a","i":3,"phi":85,"psi":52,"n":200},{"p":"LI","k":"2a","i":4,"phi":104,"psi":42,"n":200},{"p":"LI","k":"2a","i":5,"phi":114,"psi":24,"n":200},{"p":"LI","k":"2a","i":6,"phi":110,"psi":4,"n":200},{"p":"LI","k":"2a","i":7,"phi":98,"psi":-12,"n":200},{"p":"LI","k":"2a","i":8,"phi":80,"psi":-16,"n":200},{"p":"LI","k":"2a","i":9,"phi":62,"psi":-8,"n":200},{"p":"LI","k":"2a","i":10,"phi":48,"psi":8,"n":200},{"p":"LI","k":"2a","i":11,"phi":42,"psi":28,"n":200},
{"p":"LI","k":"3a","i":0,"phi":45,"psi":28,"n":300},{"p":"LI","k":"3a","i":1,"phi":51,"psi":43,"n":300},{"p":"LI","k":"3a","i":2,"phi":65,"psi":48,"n":300},{"p":"LI","k":"3a","i":3,"phi":82,"psi":45,"n":300},{"p":"LI","k":"3a","i":4,"phi":94,"psi":33,"n":300},{"p":"LI","k":"3a","i":5,"phi":98,"psi":15,"n":300},{"p":"LI","k":"3a","i":6,"phi":92,"psi":0,"n":300},{"p":"LI","k":"3a","i":7,"phi":80,"psi":-9,"n":300},{"p":"LI","k":"3a","i":8,"phi":64,"psi":-5,"n":300},{"p":"LI","k":"3a","i":9,"phi":52,"psi":8,"n":300},{"p":"LI","k":"3a","i":10,"phi":45,"psi":28,"n":300},
{"p":"LI","k":"1b","i":0,"phi":57,"psi":-152,"n":100},{"p":"LI","k":"1b","i":1,"phi":61,"psi":-138,"n":100},{"p":"LI","k":"1b","i":2,"phi":74,"psi":-133,"n":100},{"p":"LI","k":"1b","i":3,"phi":88,"psi":-137,"n":100},{"p":"LI","k":"1b","i":4,"phi":95,"psi":-150,"n":100},{"p":"LI","k":"1b","i":5,"phi":91,"psi":-163,"n":100},{"p":"LI","k":"1b","i":6,"phi":76,"psi":-169,"n":100},{"p":"LI","k":"1b","i":7,"phi":63,"psi":-165,"n":100},{"p":"LI","k":"1b","i":8,"phi":57,"psi":-152,"n":100},
{"p":"LI","k":"1c","i":0,"phi":136,"psi":-155,"n":100},{"p":"LI","k":"1c","i":1,"phi":140,"psi":-151,"n":100},{"p":"LI","k":"1c","i":2,"phi":145,"psi":-154,"n":100},{"p":"LI","k":"1c","i":3,"phi":142,"psi":-158,"n":100},{"p":"LI","k":"1c","i":4,"phi":136,"psi":-155,"n":100},

{"p":"LRI","k":"1a","i":0,"phi":28,"psi":32,"n":100},{"p":"LRI","k":"1a","i":1,"phi":35,"psi":52,"n":100},{"p":"LRI","k":"1a","i":2,"phi":52,"psi":66,"n":100},{"p":"LRI","k":"1a","i":3,"phi":76,"psi":68,"n":100},{"p":"LRI","k":"1a","i":4,"phi":100,"psi":60,"n":100},{"p":"LRI","k":"1a","i":5,"phi":120,"psi":44,"n":100},{"p":"LRI","k":"1a","i":6,"phi":130,"psi":22,"n":100},{"p":"LRI","k":"1a","i":7,"phi":126,"psi":-3,"n":100},{"p":"LRI","k":"1a","i":8,"phi":112,"psi":-22,"n":100},{"p":"LRI","k":"1a","i":9,"phi":90,"psi":-30,"n":100},{"p":"LRI","k":"1a","i":10,"phi":68,"psi":-24,"n":100},{"p":"LRI","k":"1a","i":11,"phi":48,"psi":-10,"n":100},{"p":"LRI","k":"1a","i":12,"phi":34,"psi":10,"n":100},{"p":"LRI","k":"1a","i":13,"phi":28,"psi":32,"n":100},
{"p":"LRI","k":"2a","i":0,"phi":36,"psi":32,"n":200},{"p":"LRI","k":"2a","i":1,"phi":42,"psi":50,"n":200},{"p":"LRI","k":"2a","i":2,"phi":58,"psi":58,"n":200},{"p":"LRI","k":"2a","i":3,"phi":80,"psi":57,"n":200},{"p":"LRI","k":"2a","i":4,"phi":98,"psi":46,"n":200},{"p":"LRI","k":"2a","i":5,"phi":106,"psi":26,"n":200},{"p":"LRI","k":"2a","i":6,"phi":102,"psi":5,"n":200},{"p":"LRI","k":"2a","i":7,"phi":90,"psi":-12,"n":200},{"p":"LRI","k":"2a","i":8,"phi":72,"psi":-16,"n":200},{"p":"LRI","k":"2a","i":9,"phi":54,"psi":-6,"n":200},{"p":"LRI","k":"2a","i":10,"phi":42,"psi":10,"n":200},{"p":"LRI","k":"2a","i":11,"phi":36,"psi":32,"n":200},
{"p":"LRI","k":"3a","i":0,"phi":39,"psi":32,"n":300},{"p":"LRI","k":"3a","i":1,"phi":45,"psi":48,"n":300},{"p":"LRI","k":"3a","i":2,"phi":60,"psi":53,"n":300},{"p":"LRI","k":"3a","i":3,"phi":78,"psi":50,"n":300},{"p":"LRI","k":"3a","i":4,"phi":90,"psi":38,"n":300},{"p":"LRI","k":"3a","i":5,"phi":94,"psi":18,"n":300},{"p":"LRI","k":"3a","i":6,"phi":88,"psi":0,"n":300},{"p":"LRI","k":"3a","i":7,"phi":76,"psi":-10,"n":300},{"p":"LRI","k":"3a","i":8,"phi":60,"psi":-5,"n":300},{"p":"LRI","k":"3a","i":9,"phi":47,"psi":8,"n":300},{"p":"LRI","k":"3a","i":10,"phi":39,"psi":32,"n":300},
{"p":"LRI","k":"1b","i":0,"phi":54,"psi":-152,"n":100},{"p":"LRI","k":"1b","i":1,"phi":60,"psi":-141,"n":100},{"p":"LRI","k":"1b","i":2,"phi":72,"psi":-139,"n":100},{"p":"LRI","k":"1b","i":3,"phi":86,"psi":-142,"n":100},{"p":"LRI","k":"1b","i":4,"phi":92,"psi":-152,"n":100},{"p":"LRI","k":"1b","i":5,"phi":86,"psi":-162,"n":100},{"p":"LRI","k":"1b","i":6,"phi":72,"psi":-164,"n":100},{"p":"LRI","k":"1b","i":7,"phi":60,"psi":-161,"n":100},{"p":"LRI","k":"1b","i":8,"phi":54,"psi":-152,"n":100},
{"p":"LRI","k":"1c","i":0,"phi":118,"psi":-158,"n":100},{"p":"LRI","k":"1c","i":1,"phi":124,"psi":-151,"n":100},{"p":"LRI","k":"1c","i":2,"phi":134,"psi":-150,"n":100},{"p":"LRI","k":"1c","i":3,"phi":146,"psi":-155,"n":100},{"p":"LRI","k":"1c","i":4,"phi":144,"psi":-164,"n":100},{"p":"LRI","k":"1c","i":5,"phi":132,"psi":-167,"n":100},{"p":"LRI","k":"1c","i":6,"phi":122,"psi":-164,"n":100},{"p":"LRI","k":"1c","i":7,"phi":118,"psi":-158,"n":100},
{"p":"LRI","k":"1d","i":0,"phi":-64,"psi":-33,"n":100},{"p":"LRI","k":"1d","i":1,"phi":-62,"psi":-30,"n":100},{"p":"LRI","k":"1d","i":2,"phi":-60,"psi":-33,"n":100},{"p":"LRI","k":"1d","i":3,"phi":-62,"psi":-36,"n":100},{"p":"LRI","k":"1d","i":4,"phi":-64,"psi":-33,"n":100}
],
"cells":[
{"p":"EWT","phi":-95,"psi":5,"n":450},{"p":"EWT","phi":-85,"psi":5,"n":500},{"p":"EWT","phi":-75,"psi":5,"n":420},
{"p":"EWT","phi":-105,"psi":-5,"n":450},{"p":"EWT","phi":-95,"psi":-5,"n":650},{"p":"EWT","phi":-85,"psi":-5,"n":800},{"p":"EWT","phi":-75,"psi":-5,"n":700},{"p":"EWT","phi":-65,"psi":-5,"n":480},
{"p":"EWT","phi":-105,"psi":-15,"n":550},{"p":"EWT","phi":-95,"psi":-15,"n":850},{"p":"EWT","phi":-85,"psi":-15,"n":1100},{"p":"EWT","phi":-75,"psi":-15,"n":1250},{"p":"EWT","phi":-65,"psi":-15,"n":900},{"p":"EWT","phi":-55,"psi":-15,"n":500},
{"p":"EWT","phi":-105,"psi":-25,"n":480},{"p":"EWT","phi":-95,"psi":-25,"n":950},{"p":"EWT","phi":-85,"psi":-25,"n":1350},{"p":"EWT","phi":-75,"psi":-25,"n":1550},{"p":"EWT","phi":-65,"psi":-25,"n":1300},{"p":"EWT","phi":-55,"psi":-25,"n":800},{"p":"EWT","phi":-45,"psi":-25,"n":420},
{"p":"EWT","phi":-95,"psi":-35,"n":750},{"p":"EWT","phi":-85,"psi":-35,"n":1200},{"p":"EWT","phi":-75,"psi":-35,"n":1350},{"p":"EWT","phi":-65,"psi":-35,"n":1700},{"p":"EWT","phi":-55,"psi":-35,"n":1100},{"p":"EWT","phi":-45,"psi":-35,"n":500},
{"p":"EWT","phi":-95,"psi":-45,"n":480},{"p":"EWT","phi":-85,"psi":-45,"n":900},{"p":"EWT","phi":-75,"psi":-45,"n":1500},{"p":"EWT","phi":-65,"psi":-45,"n":1450},{"p":"EWT","phi":-55,"psi":-45,"n":1250},{"p":"EWT","phi":-45,"psi":-45,"n":550},
{"p":"EWT","phi":-85,"psi":-55,"n":550},{"p":"EWT","phi":-75,"psi":-55,"n":900},{"p":"EWT","phi":-65,"psi":-55,"n":1100},{"p":"EWT","phi":-55,"psi":-55,"n":800},{"p":"EWT","phi":-45,"psi":-55,"n":430},
{"p":"EWT","phi":-75,"psi":-65,"n":450},{"p":"EWT","phi":-65,"psi":-65,"n":520},{"p":"EWT","phi":-55,"psi":-65,"n":450},

{"p":"RWT","phi":-95,"psi":5,"n":430},{"p":"RWT","phi":-85,"psi":5,"n":480},
{"p":"RWT","phi":-105,"psi":-5,"n":480},{"p":"RWT","phi":-95,"psi":-5,"n":650},{"p":"RWT","phi":-85,"psi":-5,"n":750},{"p":"RWT","phi":-75,"psi":-5,"n":600},{"p":"RWT","phi":-65,"psi":-5,"n":450},
{"p":"RWT","phi":-105,"psi":-15,"n":600},{"p":"RWT","phi":-95,"psi":-15,"n":900},{"p":"RWT","phi":-85,"psi":-15,"n":1100},{"p":"RWT","phi":-75,"psi":-15,"n":1200},{"p":"RWT","phi":-65,"psi":-15,"n":850},{"p":"RWT","phi":-55,"psi":-15,"n":480},
{"p":"RWT","phi":-105,"psi":-25,"n":520},{"p":"RWT","phi":-95,"psi":-25,"n":1000},{"p":"RWT","phi":-85,"psi":-25,"n":1400},{"p":"RWT","phi":-75,"psi":-25,"n":1600},{"p":"RWT","phi":-65,"psi":-25,"n":1300},{"p":"RWT","phi":-55,"psi":-25,"n":750},{"p":"RWT","phi":-45,"psi":-25,"n":420},
{"p":"RWT","phi":-95,"psi":-35,"n":800},{"p":"RWT","phi":-85,"psi":-35,"n":1250},{"p":"RWT","phi":-75,"psi":-35,"n":1450},{"p":"RWT","phi":-65,"psi":-35,"n":1700},{"p":"RWT","phi":-55,"psi":-35,"n":1000},{"p":"RWT","phi":-45,"psi":-35,"n":480},
{"p":"RWT","phi":-95,"psi":-45,"n":500},{"p":"RWT","phi":-85,"psi":-45,"n":950},{"p":"RWT","phi":-75,"psi":-45,"n":1550},{"p":"RWT","phi":-65,"psi":-45,"n":1400},{"p":"RWT","phi":-55,"psi":-45,"n":1150},{"p":"RWT","phi":-45,"psi":-45,"n":500},
{"p":"RWT","phi":-85,"psi":-55,"n":600},{"p":"RWT","phi":-75,"psi":-55,"n":950},{"p":"RWT","phi":-65,"psi":-55,"n":1050},{"p":"RWT","phi":-55,"psi":-55,"n":750},
{"p":"RWT","phi":-75,"psi":-65,"n":480},{"p":"RWT","phi":-65,"psi":-65,"n":500},{"p":"RWT","phi":-55,"psi":-65,"n":420},

{"p":"ER","phi":-95,"psi":5,"n":430},{"p":"ER","phi":-85,"psi":5,"n":480},{"p":"ER","phi":-75,"psi":5,"n":430},
{"p":"ER","phi":-105,"psi":-5,"n":430},{"p":"ER","phi":-95,"psi":-5,"n":600},{"p":"ER","phi":-85,"psi":-5,"n":780},{"p":"ER","phi":-75,"psi":-5,"n":720},{"p":"ER","phi":-65,"psi":-5,"n":500},
{"p":"ER","phi":-105,"psi":-15,"n":480},{"p":"ER","phi":-95,"psi":-15,"n":800},{"p":"ER","phi":-85,"psi":-15,"n":1050},{"p":"ER","phi":-75,"psi":-15,"n":1200},{"p":"ER","phi":-65,"psi":-15,"n":950},{"p":"ER","phi":-55,"psi":-15,"n":520},
{"p":"ER","phi":-95,"psi":-25,"n":900},{"p":"ER","phi":-85,"psi":-25,"n":1300},{"p":"ER","phi":-75,"psi":-25,"n":1500},{"p":"ER","phi":-65,"psi":-25,"n":1350},{"p":"ER","phi":-55,"psi":-25,"n":850},{"p":"ER","phi":-45,"psi":-25,"n":450},
{"p":"ER","phi":-95,"psi":-35,"n":700},{"p":"ER","phi":-85,"psi":-35,"n":1150},{"p":"ER","phi":-75,"psi":-35,"n":1400},{"p":"ER","phi":-65,"psi":-35,"n":1700},{"p":"ER","phi":-55,"psi":-35,"n":1200},{"p":"ER","phi":-45,"psi":-35,"n":550},
{"p":"ER","phi":-95,"psi":-45,"n":450},{"p":"ER","phi":-85,"psi":-45,"n":850},{"p":"ER","phi":-75,"psi":-45,"n":1350},{"p":"ER","phi":-65,"psi":-45,"n":1550},{"p":"ER","phi":-55,"psi":-45,"n":1300},{"p":"ER","phi":-45,"psi":-45,"n":600},
{"p":"ER","phi":-85,"psi":-55,"n":520},{"p":"ER","phi":-75,"psi":-55,"n":850},{"p":"ER","phi":-65,"psi":-55,"n":1100},{"p":"ER","phi":-55,"psi":-55,"n":850},{"p":"ER","phi":-45,"psi":-55,"n":450},
{"p":"ER","phi":-75,"psi":-65,"n":430},{"p":"ER","phi":-65,"psi":-65,"n":500},{"p":"ER","phi":-55,"psi":-65,"n":450},

{"p":"RR","phi":-95,"psi":5,"n":450},{"p":"RR","phi":-85,"psi":5,"n":500},{"p":"RR","phi":-75,"psi":5,"n":420},
{"p":"RR","phi":-95,"psi":-5,"n":620},{"p":"RR","phi":-85,"psi":-5,"n":800},{"p":"RR","phi":-75,"psi":-5,"n":750},{"p":"RR","phi":-65,"psi":-5,"n":480},
{"p":"RR","phi":-95,"psi":-15,"n":800},{"p":"RR","phi":-85,"psi":-15,"n":1100},{"p":"RR","phi":-75,"psi":-15,"n":1250},{"p":"RR","phi":-65,"psi":-15,"n":950},{"p":"RR","phi":-55,"psi":-15,"n":520},
{"p":"RR","phi":-95,"psi":-25,"n":650},{"p":"RR","phi":-85,"psi":-25,"n":1200},{"p":"RR","phi":-75,"psi":-25,"n":1550},{"p":"RR","phi":-65,"psi":-25,"n":1400},{"p":"RR","phi":-55,"psi":-25,"n":900},{"p":"RR","phi":-45,"psi":-25,"n":450},
{"p":"RR","phi":-85,"psi":-35,"n":1000},{"p":"RR","phi":-75,"psi":-35,"n":1400},{"p":"RR","phi":-65,"psi":-35,"n":1700},{"p":"RR","phi":-55,"psi":-35,"n":1250},{"p":"RR","phi":-45,"psi":-35,"n":520},
{"p":"RR","phi":-85,"psi":-45,"n":650},{"p":"RR","phi":-75,"psi":-45,"n":1100},{"p":"RR","phi":-65,"psi":-45,"n":1350},{"p":"RR","phi":-55,"psi":-45,"n":1100},{"p":"RR","phi":-45,"psi":-45,"n":480},
{"p":"RR","phi":-75,"psi":-55,"n":550},{"p":"RR","phi":-65,"psi":-55,"n":650},{"p":"RR","phi":-55,"psi":-55,"n":550},

{"p":"EI","phi":55,"psi":45,"n":450},{"p":"EI","phi":65,"psi":45,"n":500},{"p":"EI","phi":75,"psi":45,"n":450},
{"p":"EI","phi":45,"psi":35,"n":450},{"p":"EI","phi":55,"psi":35,"n":900},{"p":"EI","phi":65,"psi":35,"n":1300},{"p":"EI","phi":75,"psi":35,"n":1000},{"p":"EI","phi":85,"psi":35,"n":550},
{"p":"EI","phi":45,"psi":25,"n":550},{"p":"EI","phi":55,"psi":25,"n":1300},{"p":"EI","phi":65,"psi":25,"n":1700},{"p":"EI","phi":75,"psi":25,"n":1500},{"p":"EI","phi":85,"psi":25,"n":800},{"p":"EI","phi":95,"psi":25,"n":420},
{"p":"EI","phi":45,"psi":15,"n":500},{"p":"EI","phi":55,"psi":15,"n":1200},{"p":"EI","phi":65,"psi":15,"n":1500},{"p":"EI","phi":75,"psi":15,"n":1650},{"p":"EI","phi":85,"psi":15,"n":1000},{"p":"EI","phi":95,"psi":15,"n":480},
{"p":"EI","phi":55,"psi":5,"n":800},{"p":"EI","phi":65,"psi":5,"n":1200},{"p":"EI","phi":75,"psi":5,"n":1300},{"p":"EI","phi":85,"psi":5,"n":850},{"p":"EI","phi":95,"psi":5,"n":430},
{"p":"EI","phi":55,"psi":-5,"n":480},{"p":"EI","phi":65,"psi":-5,"n":750},{"p":"EI","phi":75,"psi":-5,"n":800},{"p":"EI","phi":85,"psi":-5,"n":550},
{"p":"EI","phi":65,"psi":-15,"n":450},{"p":"EI","phi":75,"psi":-15,"n":480},

{"p":"RI","phi":55,"psi":45,"n":430},{"p":"RI","phi":65,"psi":45,"n":480},{"p":"RI","phi":75,"psi":45,"n":430},
{"p":"RI","phi":55,"psi":35,"n":850},{"p":"RI","phi":65,"psi":35,"n":1200},{"p":"RI","phi":75,"psi":35,"n":950},{"p":"RI","phi":85,"psi":35,"n":520},
{"p":"RI","phi":55,"psi":25,"n":1250},{"p":"RI","phi":65,"psi":25,"n":1650},{"p":"RI","phi":75,"psi":25,"n":1450},{"p":"RI","phi":85,"psi":25,"n":780},{"p":"RI","phi":95,"psi":25,"n":420},
{"p":"RI","phi":55,"psi":15,"n":1100},{"p":"RI","phi":65,"psi":15,"n":1450},{"p":"RI","phi":75,"psi":15,"n":1600},{"p":"RI","phi":85,"psi":15,"n":950},{"p":"RI","phi":95,"psi":15,"n":450},
{"p":"RI","phi":55,"psi":5,"n":700},{"p":"RI","phi":65,"psi":5,"n":1100},{"p":"RI","phi":75,"psi":5,"n":1200},{"p":"RI","phi":85,"psi":5,"n":800},
{"p":"RI","phi":55,"psi":-5,"n":450},{"p":"RI","phi":65,"psi":-5,"n":700},{"p":"RI","phi":75,"psi":-5,"n":750},{"p":"RI","phi":85,"psi":-5,"n":500},
{"p":"RI","phi":65,"psi":-15,"n":430},{"p":"RI","phi":75,"psi":-15,"n":450},
{"p":"RI","phi":-55,"psi":-35,"n":550},{"p":"RI","phi":-45,"psi":-35,"n":480},
{"p":"RI","phi":-55,"psi":-45,"n":700},{"p":"RI","phi":-45,"psi":-45,"n":650},
{"p":"RI","phi":-55,"psi":-55,"n":500},{"p":"RI","phi":-45,"psi":-55,"n":600},

{"p":"ERI","phi":55,"psi":45,"n":450},{"p":"ERI","phi":65,"psi":45,"n":550},{"p":"ERI","phi":75,"psi":45,"n":450},
{"p":"ERI","phi":45,"psi":35,"n":450},{"p":"ERI","phi":55,"psi":35,"n":1000},{"p":"ERI","phi":65,"psi":35,"n":1400},{"p":"ERI","phi":75,"psi":35,"n":1100},{"p":"ERI","phi":85,"psi":35,"n":500},
{"p":"ERI","phi":45,"psi":25,"n":520},{"p":"ERI","phi":55,"psi":25,"n":1400},{"p":"ERI","phi":65,"psi":25,"n":1750},{"p":"ERI","phi":75,"psi":25,"n":1500},{"p":"ERI","phi":85,"psi":25,"n":750},
{"p":"ERI","phi":45,"psi":15,"n":470},{"p":"ERI","phi":55,"psi":15,"n":1200},{"p":"ERI","phi":65,"psi":15,"n":1450},{"p":"ERI","phi":75,"psi":15,"n":1650},{"p":"ERI","phi":85,"psi":15,"n":900},{"p":"ERI","phi":95,"psi":15,"n":420},
{"p":"ERI","phi":55,"psi":5,"n":750},{"p":"ERI","phi":65,"psi":5,"n":1150},{"p":"ERI","phi":75,"psi":5,"n":1200},{"p":"ERI","phi":85,"psi":5,"n":700},
{"p":"ERI","phi":55,"psi":-5,"n":450},{"p":"ERI","phi":65,"psi":-5,"n":700},{"p":"ERI","phi":75,"psi":-5,"n":720},{"p":"ERI","phi":85,"psi":-5,"n":450},
{"p":"ERI","phi":65,"psi":-15,"n":430},{"p":"ERI","phi":75,"psi":-15,"n":440},

{"p":"RRI","phi":55,"psi":45,"n":450},{"p":"RRI","phi":65,"psi":45,"n":500},
{"p":"RRI","phi":45,"psi":35,"n":420},{"p":"RRI","phi":55,"psi":35,"n":900},{"p":"RRI","phi":65,"psi":35,"n":1300},{"p":"RRI","phi":75,"psi":35,"n":900},{"p":"RRI","phi":85,"psi":35,"n":450},
{"p":"RRI","phi":45,"psi":25,"n":480},{"p":"RRI","phi":55,"psi":25,"n":1300},{"p":"RRI","phi":65,"psi":25,"n":1700},{"p":"RRI","phi":75,"psi":25,"n":1450},{"p":"RRI","phi":85,"psi":25,"n":700},
{"p":"RRI","phi":45,"psi":15,"n":430},{"p":"RRI","phi":55,"psi":15,"n":1100},{"p":"RRI","phi":65,"psi":15,"n":1500},{"p":"RRI","phi":75,"psi":15,"n":1550},{"p":"RRI","phi":85,"psi":15,"n":850},
{"p":"RRI","phi":55,"psi":5,"n":700},{"p":"RRI","phi":65,"psi":5,"n":1050},{"p":"RRI","phi":75,"psi":5,"n":1100},{"p":"RRI","phi":85,"psi":5,"n":650},
{"p":"RRI","phi":55,"psi":-5,"n":430},{"p":"RRI","phi":65,"psi":-5,"n":600},{"p":"RRI","phi":75,"psi":-5,"n":650},{"p":"RRI","phi":85,"psi":-5,"n":450},
{"p":"RRI","phi":-65,"psi":-35,"n":450},{"p":"RRI","phi":-55,"psi":-35,"n":650},{"p":"RRI","phi":-45,"psi":-35,"n":500},
{"p":"RRI","phi":-65,"psi":-45,"n":500},{"p":"RRI","phi":-55,"psi":-45,"n":800},{"p":"RRI","phi":-45,"psi":-45,"n":700},
{"p":"RRI","phi":-55,"psi":-55,"n":600},{"p":"RRI","phi":-45,"psi":-55,"n":550},

{"p":"LI","phi":55,"psi":45,"n":500},{"p":"LI","phi":65,"psi":45,"n":600},{"p":"LI","phi":75,"psi":45,"n":480},
{"p":"LI","phi":45,"psi":35,"n":450},{"p":"LI","phi":55,"psi":35,"n":1100},{"p":"LI","phi":65,"psi":35,"n":1500},{"p":"LI","phi":75,"psi":35,"n":1000},{"p":"LI","phi":85,"psi":35,"n":480},
{"p":"LI","phi":45,"psi":25,"n":500},{"p":"LI","phi":55,"psi":25,"n":1300},{"p":"LI","phi":65,"psi":25,"n":1600},{"p":"LI","phi":75,"psi":25,"n":1500},{"p":"LI","phi":85,"psi":25,"n":700},
{"p":"LI","phi":45,"psi":15,"n":450},{"p":"LI","phi":55,"psi":15,"n":1000},{"p":"LI","phi":65,"psi":15,"n":1300},{"p":"LI","phi":75,"psi":15,"n":1600},{"p":"LI","phi":85,"psi":15,"n":850},{"p":"LI","phi":95,"psi":15,"n":430},
{"p":"LI","phi":55,"psi":5,"n":650},{"p":"LI","phi":65,"psi":5,"n":1000},{"p":"LI","phi":75,"psi":5,"n":1050},{"p":"LI","phi":85,"psi":5,"n":600},
{"p":"LI","phi":55,"psi":-5,"n":420},{"p":"LI","phi":65,"psi":-5,"n":550},{"p":"LI","phi":75,"psi":-5,"n":600},{"p":"LI","phi":85,"psi":-5,"n":430},

{"p":"LRI","phi":55,"psi":55,"n":430},
{"p":"LRI","phi":45,"psi":45,"n":450},{"p":"LRI","phi":55,"psi":45,"n":800},{"p":"LRI","phi":65,"psi":45,"n":700},{"p":"LRI","phi":75,"psi":45,"n":450},
{"p":"LRI","phi":45,"psi":35,"n":700},{"p":"LRI","phi":55,"psi":35,"n":1400},{"p":"LRI","phi":65,"psi":35,"n":1600},{"p":"LRI","phi":75,"psi":35,"n":1100},{"p":"LRI","phi":85,"psi":35,"n":500},
{"p":"LRI","phi":45,"psi":25,"n":650},{"p":"LRI","phi":55,"psi":25,"n":1500},{"p":"LRI","phi":65,"psi":25,"n":1700},{"p":"LRI","phi":75,"psi":25,"n":1500},{"p":"LRI","phi":85,"psi":25,"n":750},
{"p":"LRI","phi":45,"psi":15,"n":450},{"p":"LRI","phi":55,"psi":15,"n":1000},{"p":"LRI","phi":65,"psi":15,"n":1400},{"p":"LRI","phi":75,"psi":15,"n":1450},{"p":"LRI","phi":85,"psi":15,"n":850},{"p":"LRI","phi":95,"psi":15,"n":420},
{"p":"LRI","phi":55,"psi":5,"n":600},{"p":"LRI","phi":65,"psi":5,"n":900},{"p":"LRI","phi":75,"psi":5,"n":950},{"p":"LRI","phi":85,"psi":5,"n":600},
{"p":"LRI","phi":65,"psi":-5,"n":500},{"p":"LRI","phi":75,"psi":-5,"n":550},{"p":"LRI","phi":85,"psi":-5,"n":420}
]
},
"columns":4,
"bounds":"flush",
"align":"each",
"spacing":{"row":32,"column":62},
"resolve":{"scale":{"fill":"independent"},"legend":{"fill":"independent"}},
"concat":[
{"width":106,"height":104,"title":"WT","resolve":{"axis":{"y":"independent"}},
 "encoding":{"x":{"field":"phi","type":"quantitative","title":"ϕ","scale":{"domain":[-180,180],"nice":false},"axis":{"values":[-180,-150,-120,-90,-60,-30,0,30,60,90,120,150,180],"labelOverlap":false,"labelExpr":"datum.value % 90 === 0 ? '' + datum.value : ''"}},
  "y":{"field":"psi","type":"quantitative","title":"ψ","scale":{"domain":[-180,180],"nice":false},"axis":{"values":[-180,-150,-120,-90,-60,-30,0,30,60,90,120,150,180],"labelOverlap":false,"labelExpr":"datum.value % 90 === 0 ? '' + datum.value : ''"}},
  "fill":{"field":"n","type":"quantitative","title":null,"scale":{"type":"quantize","domain":[0,1600],"nice":false,"range":["#ffffff","#fbf9f1","#f8f4e6","#f3eedb","#b4cbee","#9dbce2","#86b7c0","#71a5b2","#5e96b0","#4c8ab8","#3b82c2","#2b73b2","#20629f","#195088","#134071","#0c3a44"]},"legend":{"type":"gradient","orient":"none","legendX":108,"legendY":8,"gradientLength":93,"gradientThickness":6,"title":null,"labelExpr":"datum.value >= 1600 ? '' : (datum.value < 0 ? '0' : '' + datum.value)"}}},
 "layer":[
 {"data":{"name":"lines"},"transform":[{"filter":"datum.p==='EWT'"}],"mark":{"type":"line","stroke":"#c6b690","strokeWidth":0.6},"encoding":{"detail":{"field":"k"},"order":{"field":"i","type":"quantitative"}}},
 {"data":{"name":"cells"},"transform":[{"filter":"datum.p==='EWT'"}],"mark":{"type":"square","size":10,"opacity":1},
  "encoding":{"y":{"field":"psi","type":"quantitative","title":"E","scale":{"domain":[-180,180],"nice":false},"axis":{"title":"E","orient":"left","labels":false,"ticks":false,"domain":false,"values":[],"titleAngle":0,"titleFontSize":13,"titlePadding":40,"titleAlign":"right","titleBaseline":"middle"}}}}
]},
{"width":106,"height":104,"title":"I",
 "encoding":{"x":{"field":"phi","type":"quantitative","title":"ϕ","scale":{"domain":[-180,180],"nice":false},"axis":{"values":[-180,-150,-120,-90,-60,-30,0,30,60,90,120,150,180],"labelOverlap":false,"labelExpr":"datum.value % 90 === 0 ? '' + datum.value : ''"}},
  "y":{"field":"psi","type":"quantitative","title":"ψ","scale":{"domain":[-180,180],"nice":false},"axis":{"values":[-180,-150,-120,-90,-60,-30,0,30,60,90,120,150,180],"labelOverlap":false,"labelExpr":"datum.value % 90 === 0 ? '' + datum.value : ''"}},
  "fill":{"field":"n","type":"quantitative","title":null,"scale":{"type":"quantize","domain":[0,1600],"nice":false,"range":["#ffffff","#fbf9f1","#f8f4e6","#f3eedb","#b4cbee","#9dbce2","#86b7c0","#71a5b2","#5e96b0","#4c8ab8","#3b82c2","#2b73b2","#20629f","#195088","#134071","#0c3a44"]},"legend":{"type":"gradient","orient":"none","legendX":108,"legendY":8,"gradientLength":93,"gradientThickness":6,"title":null,"labelExpr":"datum.value >= 1600 ? '' : (datum.value < 0 ? '0' : '' + datum.value)"}}},
 "layer":[
 {"data":{"name":"lines"},"transform":[{"filter":"datum.p==='EI'"}],"mark":{"type":"line","stroke":"#c6b690","strokeWidth":0.6},"encoding":{"detail":{"field":"k"},"order":{"field":"i","type":"quantitative"}}},
 {"data":{"name":"cells"},"transform":[{"filter":"datum.p==='EI'"}],"mark":{"type":"square","size":10,"opacity":1}}
]},
{"width":106,"height":104,"title":"R",
 "encoding":{"x":{"field":"phi","type":"quantitative","title":"ϕ","scale":{"domain":[-180,180],"nice":false},"axis":{"values":[-180,-150,-120,-90,-60,-30,0,30,60,90,120,150,180],"labelOverlap":false,"labelExpr":"datum.value % 90 === 0 ? '' + datum.value : ''"}},
  "y":{"field":"psi","type":"quantitative","title":"ψ","scale":{"domain":[-180,180],"nice":false},"axis":{"values":[-180,-150,-120,-90,-60,-30,0,30,60,90,120,150,180],"labelOverlap":false,"labelExpr":"datum.value % 90 === 0 ? '' + datum.value : ''"}},
  "fill":{"field":"n","type":"quantitative","title":null,"scale":{"type":"quantize","domain":[0,1600],"nice":false,"range":["#ffffff","#fbf9f1","#f8f4e6","#f3eedb","#b4cbee","#9dbce2","#86b7c0","#71a5b2","#5e96b0","#4c8ab8","#3b82c2","#2b73b2","#20629f","#195088","#134071","#0c3a44"]},"legend":{"type":"gradient","orient":"none","legendX":108,"legendY":8,"gradientLength":93,"gradientThickness":6,"title":null,"labelExpr":"datum.value >= 1600 ? '' : (datum.value < 0 ? '0' : '' + datum.value)"}}},
 "layer":[
 {"data":{"name":"lines"},"transform":[{"filter":"datum.p==='ER'"}],"mark":{"type":"line","stroke":"#c6b690","strokeWidth":0.6},"encoding":{"detail":{"field":"k"},"order":{"field":"i","type":"quantitative"}}},
 {"data":{"name":"cells"},"transform":[{"filter":"datum.p==='ER'"}],"mark":{"type":"square","size":10,"opacity":1}}
]},
{"width":106,"height":104,"title":"RI",
 "encoding":{"x":{"field":"phi","type":"quantitative","title":"ϕ","scale":{"domain":[-180,180],"nice":false},"axis":{"values":[-180,-150,-120,-90,-60,-30,0,30,60,90,120,150,180],"labelOverlap":false,"labelExpr":"datum.value % 90 === 0 ? '' + datum.value : ''"}},
  "y":{"field":"psi","type":"quantitative","title":"ψ","scale":{"domain":[-180,180],"nice":false},"axis":{"values":[-180,-150,-120,-90,-60,-30,0,30,60,90,120,150,180],"labelOverlap":false,"labelExpr":"datum.value % 90 === 0 ? '' + datum.value : ''"}},
  "fill":{"field":"n","type":"quantitative","title":null,"scale":{"type":"quantize","domain":[0,1600],"nice":false,"range":["#ffffff","#fbf9f1","#f8f4e6","#f3eedb","#b4cbee","#9dbce2","#86b7c0","#71a5b2","#5e96b0","#4c8ab8","#3b82c2","#2b73b2","#20629f","#195088","#134071","#0c3a44"]},"legend":{"type":"gradient","orient":"none","legendX":108,"legendY":8,"gradientLength":93,"gradientThickness":6,"title":null,"labelExpr":"datum.value >= 1600 ? '' : (datum.value < 0 ? '0' : '' + datum.value)"}}},
 "layer":[
 {"data":{"name":"lines"},"transform":[{"filter":"datum.p==='ERI'"}],"mark":{"type":"line","stroke":"#c6b690","strokeWidth":0.6},"encoding":{"detail":{"field":"k"},"order":{"field":"i","type":"quantitative"}}},
 {"data":{"name":"cells"},"transform":[{"filter":"datum.p==='ERI'"}],"mark":{"type":"square","size":10,"opacity":1}}
]},
{"width":106,"height":104,"resolve":{"axis":{"y":"independent"}},
 "encoding":{"x":{"field":"phi","type":"quantitative","title":"ϕ","scale":{"domain":[-180,180],"nice":false},"axis":{"values":[-180,-150,-120,-90,-60,-30,0,30,60,90,120,150,180],"labelOverlap":false,"labelExpr":"datum.value % 90 === 0 ? '' + datum.value : ''"}},
  "y":{"field":"psi","type":"quantitative","title":"ψ","scale":{"domain":[-180,180],"nice":false},"axis":{"values":[-180,-150,-120,-90,-60,-30,0,30,60,90,120,150,180],"labelOverlap":false,"labelExpr":"datum.value % 90 === 0 ? '' + datum.value : ''"}},
  "fill":{"field":"n","type":"quantitative","title":null,"scale":{"type":"quantize","domain":[0,1600],"nice":false,"range":["#ffffff","#fbf9f1","#f8f4e6","#f3eedb","#b4cbee","#9dbce2","#86b7c0","#71a5b2","#5e96b0","#4c8ab8","#3b82c2","#2b73b2","#20629f","#195088","#134071","#0c3a44"]},"legend":{"type":"gradient","orient":"none","legendX":108,"legendY":8,"gradientLength":93,"gradientThickness":6,"title":null,"labelExpr":"datum.value >= 1600 ? '' : (datum.value < 0 ? '0' : '' + datum.value)"}}},
 "layer":[
 {"data":{"name":"lines"},"transform":[{"filter":"datum.p==='RWT'"}],"mark":{"type":"line","stroke":"#c6b690","strokeWidth":0.6},"encoding":{"detail":{"field":"k"},"order":{"field":"i","type":"quantitative"}}},
 {"data":{"name":"cells"},"transform":[{"filter":"datum.p==='RWT'"}],"mark":{"type":"square","size":10,"opacity":1},
  "encoding":{"y":{"field":"psi","type":"quantitative","title":"R","scale":{"domain":[-180,180],"nice":false},"axis":{"title":"R","orient":"left","labels":false,"ticks":false,"domain":false,"values":[],"titleAngle":0,"titleFontSize":13,"titlePadding":40,"titleAlign":"right","titleBaseline":"middle"}}}}
]},
{"width":106,"height":104,
 "encoding":{"x":{"field":"phi","type":"quantitative","title":"ϕ","scale":{"domain":[-180,180],"nice":false},"axis":{"values":[-180,-150,-120,-90,-60,-30,0,30,60,90,120,150,180],"labelOverlap":false,"labelExpr":"datum.value % 90 === 0 ? '' + datum.value : ''"}},
  "y":{"field":"psi","type":"quantitative","title":"ψ","scale":{"domain":[-180,180],"nice":false},"axis":{"values":[-180,-150,-120,-90,-60,-30,0,30,60,90,120,150,180],"labelOverlap":false,"labelExpr":"datum.value % 90 === 0 ? '' + datum.value : ''"}},
  "fill":{"field":"n","type":"quantitative","title":null,"scale":{"type":"quantize","domain":[0,1600],"nice":false,"range":["#ffffff","#fbf9f1","#f8f4e6","#f3eedb","#b4cbee","#9dbce2","#86b7c0","#71a5b2","#5e96b0","#4c8ab8","#3b82c2","#2b73b2","#20629f","#195088","#134071","#0c3a44"]},"legend":{"type":"gradient","orient":"none","legendX":108,"legendY":8,"gradientLength":93,"gradientThickness":6,"title":null,"labelExpr":"datum.value >= 1600 ? '' : (datum.value < 0 ? '0' : '' + datum.value)"}}},
 "layer":[
 {"data":{"name":"lines"},"transform":[{"filter":"datum.p==='RI'"}],"mark":{"type":"line","stroke":"#c6b690","strokeWidth":0.6},"encoding":{"detail":{"field":"k"},"order":{"field":"i","type":"quantitative"}}},
 {"data":{"name":"cells"},"transform":[{"filter":"datum.p==='RI'"}],"mark":{"type":"square","size":10,"opacity":1}}
]},
{"width":106,"height":104,
 "encoding":{"x":{"field":"phi","type":"quantitative","title":"ϕ","scale":{"domain":[-180,180],"nice":false},"axis":{"values":[-180,-150,-120,-90,-60,-30,0,30,60,90,120,150,180],"labelOverlap":false,"labelExpr":"datum.value % 90 === 0 ? '' + datum.value : ''"}},
  "y":{"field":"psi","type":"quantitative","title":"ψ","scale":{"domain":[-180,180],"nice":false},"axis":{"values":[-180,-150,-120,-90,-60,-30,0,30,60,90,120,150,180],"labelOverlap":false,"labelExpr":"datum.value % 90 === 0 ? '' + datum.value : ''"}},
  "fill":{"field":"n","type":"quantitative","title":null,"scale":{"type":"quantize","domain":[0,1600],"nice":false,"range":["#ffffff","#fbf9f1","#f8f4e6","#f3eedb","#b4cbee","#9dbce2","#86b7c0","#71a5b2","#5e96b0","#4c8ab8","#3b82c2","#2b73b2","#20629f","#195088","#134071","#0c3a44"]},"legend":{"type":"gradient","orient":"none","legendX":108,"legendY":8,"gradientLength":93,"gradientThickness":6,"title":null,"labelExpr":"datum.value >= 1600 ? '' : (datum.value < 0 ? '0' : '' + datum.value)"}}},
 "layer":[
 {"data":{"name":"lines"},"transform":[{"filter":"datum.p==='RR'"}],"mark":{"type":"line","stroke":"#c6b690","strokeWidth":0.6},"encoding":{"detail":{"field":"k"},"order":{"field":"i","type":"quantitative"}}},
 {"data":{"name":"cells"},"transform":[{"filter":"datum.p==='RR'"}],"mark":{"type":"square","size":10,"opacity":1}}
]},
{"width":106,"height":104,
 "encoding":{"x":{"field":"phi","type":"quantitative","title":"ϕ","scale":{"domain":[-180,180],"nice":false},"axis":{"values":[-180,-150,-120,-90,-60,-30,0,30,60,90,120,150,180],"labelOverlap":false,"labelExpr":"datum.value % 90 === 0 ? '' + datum.value : ''"}},
  "y":{"field":"psi","type":"quantitative","title":"ψ","scale":{"domain":[-180,180],"nice":false},"axis":{"values":[-180,-150,-120,-90,-60,-30,0,30,60,90,120,150,180],"labelOverlap":false,"labelExpr":"datum.value % 90 === 0 ? '' + datum.value : ''"}},
  "fill":{"field":"n","type":"quantitative","title":null,"scale":{"type":"quantize","domain":[0,1600],"nice":false,"range":["#ffffff","#fbf9f1","#f8f4e6","#f3eedb","#b4cbee","#9dbce2","#86b7c0","#71a5b2","#5e96b0","#4c8ab8","#3b82c2","#2b73b2","#20629f","#195088","#134071","#0c3a44"]},"legend":{"type":"gradient","orient":"none","legendX":108,"legendY":8,"gradientLength":93,"gradientThickness":6,"title":null,"labelExpr":"datum.value >= 1600 ? '' : (datum.value < 0 ? '0' : '' + datum.value)"}}},
 "layer":[
 {"data":{"name":"lines"},"transform":[{"filter":"datum.p==='RRI'"}],"mark":{"type":"line","stroke":"#c6b690","strokeWidth":0.6},"encoding":{"detail":{"field":"k"},"order":{"field":"i","type":"quantitative"}}},
 {"data":{"name":"cells"},"transform":[{"filter":"datum.p==='RRI'"}],"mark":{"type":"square","size":10,"opacity":1}}
]},
{"width":106,"height":104,"data":{"values":[]},"mark":{"type":"point","opacity":0},
 "encoding":{"y":{"field":"psi","type":"quantitative","scale":{"domain":[-180,180]},"axis":{"title":"L","orient":"left","labels":false,"ticks":false,"domain":false,"values":[],"titleAngle":0,"titleFontSize":13,"titlePadding":40,"titleAlign":"right","titleBaseline":"middle"}}}},
{"width":106,"height":104,
 "encoding":{"x":{"field":"phi","type":"quantitative","title":"ϕ","scale":{"domain":[-180,180],"nice":false},"axis":{"values":[-180,-150,-120,-90,-60,-30,0,30,60,90,120,150,180],"labelOverlap":false,"labelExpr":"datum.value % 90 === 0 ? '' + datum.value : ''"}},
  "y":{"field":"psi","type":"quantitative","title":"ψ","scale":{"domain":[-180,180],"nice":false},"axis":{"values":[-180,-150,-120,-90,-60,-30,0,30,60,90,120,150,180],"labelOverlap":false,"labelExpr":"datum.value % 90 === 0 ? '' + datum.value : ''"}},
  "fill":{"field":"n","type":"quantitative","title":null,"scale":{"type":"quantize","domain":[0,1600],"nice":false,"range":["#ffffff","#fbf9f1","#f8f4e6","#f3eedb","#b4cbee","#9dbce2","#86b7c0","#71a5b2","#5e96b0","#4c8ab8","#3b82c2","#2b73b2","#20629f","#195088","#134071","#0c3a44"]},"legend":{"type":"gradient","orient":"none","legendX":108,"legendY":8,"gradientLength":93,"gradientThickness":6,"title":null,"labelExpr":"datum.value >= 1600 ? '' : (datum.value < 0 ? '0' : '' + datum.value)"}}},
 "layer":[
 {"data":{"name":"lines"},"transform":[{"filter":"datum.p==='LI'"}],"mark":{"type":"line","stroke":"#c6b690","strokeWidth":0.6},"encoding":{"detail":{"field":"k"},"order":{"field":"i","type":"quantitative"}}},
 {"data":{"name":"cells"},"transform":[{"filter":"datum.p==='LI'"}],"mark":{"type":"square","size":10,"opacity":1}}
]},
{"width":106,"height":104,"data":{"values":[]},"mark":{"type":"point","opacity":0},"encoding":{}},
{"width":106,"height":104,
 "encoding":{"x":{"field":"phi","type":"quantitative","title":"ϕ","scale":{"domain":[-180,180],"nice":false},"axis":{"values":[-180,-150,-120,-90,-60,-30,0,30,60,90,120,150,180],"labelOverlap":false,"labelExpr":"datum.value % 90 === 0 ? '' + datum.value : ''"}},
  "y":{"field":"psi","type":"quantitative","title":"ψ","scale":{"domain":[-180,180],"nice":false},"axis":{"values":[-180,-150,-120,-90,-60,-30,0,30,60,90,120,150,180],"labelOverlap":false,"labelExpr":"datum.value % 90 === 0 ? '' + datum.value : ''"}},
  "fill":{"field":"n","type":"quantitative","title":null,"scale":{"type":"quantize","domain":[0,1600],"nice":false,"range":["#ffffff","#fbf9f1","#f8f4e6","#f3eedb","#b4cbee","#9dbce2","#86b7c0","#71a5b2","#5e96b0","#4c8ab8","#3b82c2","#2b73b2","#20629f","#195088","#134071","#0c3a44"]},"legend":{"type":"gradient","orient":"none","legendX":108,"legendY":8,"gradientLength":93,"gradientThickness":6,"title":null,"labelExpr":"datum.value >= 1600 ? '' : (datum.value < 0 ? '0' : '' + datum.value)"}}},
 "layer":[
 {"data":{"name":"lines"},"transform":[{"filter":"datum.p==='LRI'"}],"mark":{"type":"line","stroke":"#c6b690","strokeWidth":0.6},"encoding":{"detail":{"field":"k"},"order":{"field":"i","type":"quantitative"}}},
 {"data":{"name":"cells"},"transform":[{"filter":"datum.p==='LRI'"}],"mark":{"type":"square","size":10,"opacity":1}}
]}
]
}
